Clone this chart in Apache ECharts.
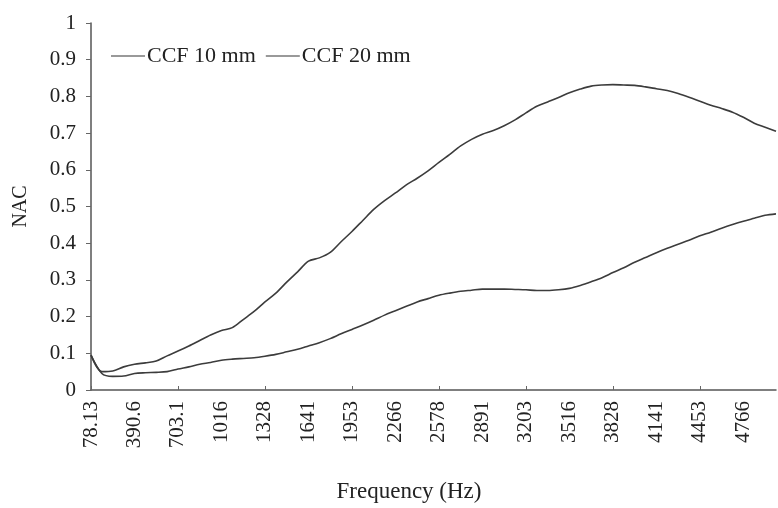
<!DOCTYPE html>
<html>
<head>
<meta charset="utf-8">
<script src="https://cdn.jsdelivr.net/npm/echarts@6/dist/echarts.min.js"></script>
<style>
  html, body { margin: 0; padding: 0; background: #fff; }
  #nac { width: 778px; height: 508px; }
</style>
</head>
<body>
<div id="nac"></div>
<script>
// frequency bins (Hz), one every 78.125 Hz
var freqs = [
  78.125, 156.25, 234.375, 312.5, 390.625, 468.75, 546.875, 625,
  703.125, 781.25, 859.375, 937.5, 1015.625, 1093.75, 1171.875, 1250,
  1328.125, 1406.25, 1484.375, 1562.5, 1640.625, 1718.75, 1796.875, 1875,
  1953.125, 2031.25, 2109.375, 2187.5, 2265.625, 2343.75, 2421.875, 2500,
  2578.125, 2656.25, 2734.375, 2812.5, 2890.625, 2968.75, 3046.875, 3125,
  3203.125, 3281.25, 3359.375, 3437.5, 3515.625, 3593.75, 3671.875, 3750,
  3828.125, 3906.25, 3984.375, 4062.5, 4140.625, 4218.75, 4296.875, 4375,
  4453.125, 4531.25, 4609.375, 4687.5, 4765.625, 4843.75, 4921.875, 5000
];
// labels shown under every 4th bin
var tickLabels = ['78.13', '390.6', '703.1', '1016', '1328', '1641', '1953', '2266',
  '2578', '2891', '3203', '3516', '3828', '4141', '4453', '4766'];
var yTicks = ['0', '0.1', '0.2', '0.3', '0.4', '0.5', '0.6', '0.7', '0.8', '0.9', '1'];

// NAC values
var ccf20 = [
  0.095, 0.050, 0.052, 0.063, 0.070, 0.074, 0.079, 0.093,
  0.106, 0.120, 0.135, 0.150, 0.162, 0.170, 0.192, 0.214,
  0.240, 0.264, 0.294, 0.322, 0.351, 0.360, 0.375, 0.404,
  0.432, 0.462, 0.492, 0.516, 0.537, 0.559, 0.577, 0.597,
  0.620, 0.642, 0.665, 0.683, 0.697, 0.707, 0.720, 0.736,
  0.755, 0.773, 0.785, 0.797, 0.810, 0.820, 0.828, 0.831,
  0.832, 0.831, 0.830, 0.826, 0.821, 0.816, 0.808, 0.798,
  0.787, 0.776, 0.767, 0.757, 0.743, 0.727, 0.716, 0.705
];
var ccf10 = [
  0.095, 0.045, 0.037, 0.038, 0.045, 0.047, 0.048, 0.050,
  0.057, 0.063, 0.070, 0.075, 0.081, 0.084, 0.086, 0.088,
  0.092, 0.097, 0.104, 0.111, 0.120, 0.129, 0.140, 0.153,
  0.165, 0.177, 0.190, 0.204, 0.216, 0.228, 0.240, 0.249,
  0.258, 0.264, 0.269, 0.272, 0.275, 0.275, 0.275, 0.274,
  0.273, 0.271, 0.271, 0.273, 0.277, 0.285, 0.295, 0.306,
  0.320, 0.333, 0.348, 0.361, 0.374, 0.386, 0.397, 0.408,
  0.420, 0.430, 0.441, 0.451, 0.460, 0.468, 0.476, 0.480
];

var font = 'Liberation Serif';
var ink = '#222';
var lineCol = '#3c3c3c';

var myChart = echarts.init(document.getElementById('nac'));
var option = {
  animation: false,
  backgroundColor: '#fff',
  textStyle: { fontFamily: font, color: ink },
  grid: { left: 91, right: 2, top: 23, bottom: 115 },
  legend: {
    left: 106, top: 40,
    icon: 'rect', itemWidth: 34, itemHeight: 1.5, itemGap: 10,
    textStyle: { fontFamily: font, fontSize: 22, color: ink, padding: [0, 0, 0, -3] },
    data: ['CCF 10 mm', 'CCF 20 mm']
  },
  xAxis: {
    type: 'category',
    data: freqs,
    boundaryGap: false,
    name: 'Frequency (Hz)',
    nameLocation: 'middle',
    nameGap: 90,
    nameTextStyle: { fontFamily: font, fontSize: 23, color: ink, padding: [0, 49, 0, 0] },
    axisLine: { lineStyle: { color: '#555', width: 1.5 } },
    axisTick: { show: true, inside: true, length: 4, interval: 7, lineStyle: { color: '#666' } },
    axisLabel: {
      interval: 3, rotate: 90, margin: 11,
      fontFamily: font, fontSize: 21, color: ink,
      formatter: function (v, i) { return tickLabels[i / 4]; }
    },
    splitLine: { show: false }
  },
  yAxis: {
    type: 'value',
    min: 0, max: 1, interval: 0.1,
    name: 'NAC',
    nameLocation: 'middle',
    nameGap: 60,
    nameTextStyle: { fontFamily: font, fontSize: 20, color: ink },
    axisLine: { show: true, lineStyle: { color: '#555', width: 1.5 } },
    axisTick: { show: true, length: 5, lineStyle: { color: '#666' } },
    axisLabel: {
      margin: 15, fontFamily: font, fontSize: 21, color: ink,
      formatter: function (v) { return yTicks[Math.round(v * 10)]; }
    },
    splitLine: { show: false }
  },
  series: [
    {
      name: 'CCF 10 mm', type: 'line', data: ccf10,
      showSymbol: false, smooth: 0.3,
      lineStyle: { color: lineCol, width: 1.6 }, itemStyle: { color: '#777' }
    },
    {
      name: 'CCF 20 mm', type: 'line', data: ccf20,
      showSymbol: false, smooth: 0.3,
      lineStyle: { color: lineCol, width: 1.6 }, itemStyle: { color: '#777' }
    }
  ]
};
myChart.setOption(option);
</script>
</body>
</html>
